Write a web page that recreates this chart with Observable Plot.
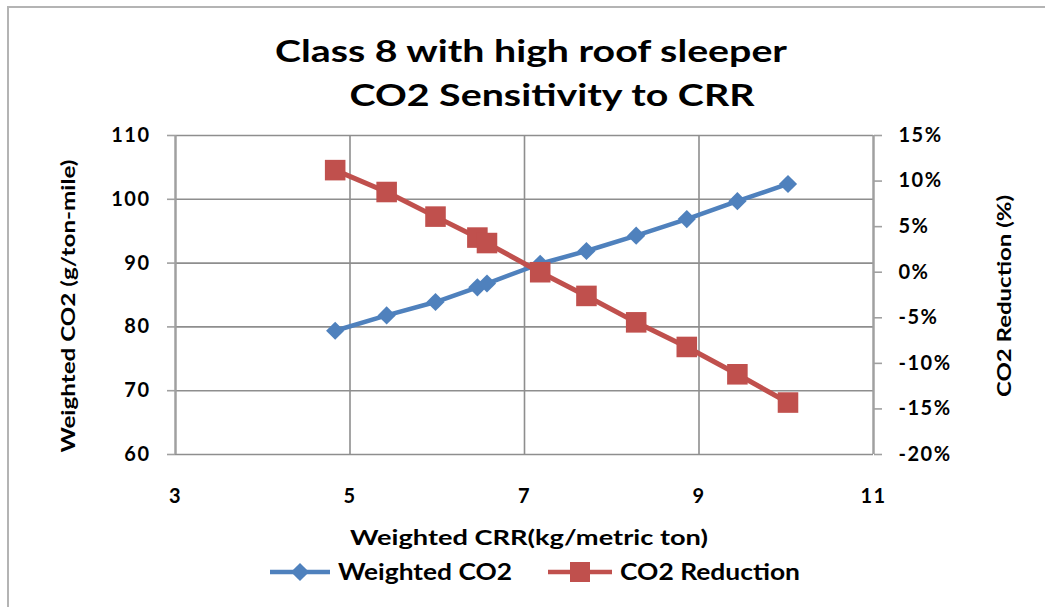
<!DOCTYPE html>
<html><head><meta charset="utf-8">
<script src="https://cdn.jsdelivr.net/npm/d3@7"></script>
<script src="https://cdn.jsdelivr.net/npm/@observablehq/plot@0.6"></script>
<style>
body{margin:0;background:#fff;}
#wrap{position:relative;width:1045px;height:607px;overflow:hidden;font-family:Lato,"Open Sans",sans-serif;}
#frame{position:absolute;left:7px;top:6px;width:1100px;height:700px;border-left:2px solid #b4b4b4;border-top:2px solid #b4b4b4;}
#chart{position:absolute;left:0;top:0;}
#overlay{position:absolute;left:0;top:0;}
#chart svg text{font-family:Lato,"Open Sans",sans-serif;}
#chart svg g[aria-label$="tick label"] text{letter-spacing:1.5px;}
</style></head><body>
<div id="wrap">
<div id="frame"></div>
<div id="chart"></div>
<svg id="overlay" width="1045" height="607" font-family="Lato, 'Open Sans', sans-serif" fill="#000"></svg>
</div>
<script>
// ---- data ----
const crr = [4.83, 5.42, 5.98, 6.46, 6.57, 7.18, 7.71, 8.28, 8.86, 9.44, 10.02];
const weightedCO2 = [79.4, 81.8, 83.9, 86.2, 86.8, 89.9, 91.9, 94.3, 96.9, 99.7, 102.4];
const co2Reduction = [11.2, 8.8, 6.1, 3.8, 3.2, 0.0, -2.6, -5.5, -8.2, -11.2, -14.3];
const xTicks = [3, 5, 7, 9, 11];
const leftTicks = [60, 70, 80, 90, 100, 110];
const rightTicks = [15, 10, 5, 0, -5, -10, -15, -20];
const seriesNames = ["Weighted CO2", "CO2 Reduction"];
const colors = ["#4f81bd", "#c0504d"];

// right axis (percent) mapped onto left axis domain
const leftDomain = [60, 110], rightDomain = [-20, 15];
const toLeft = p => leftDomain[0] + (p - rightDomain[0]) * (leftDomain[1] - leftDomain[0]) / (rightDomain[1] - rightDomain[0]);
const fromLeft = v => rightDomain[0] + (v - leftDomain[0]) * (rightDomain[1] - rightDomain[0]) / (leftDomain[1] - leftDomain[0]);

const blue = crr.map((x, i) => ({x, y: weightedCO2[i]}));
const red = crr.map((x, i) => ({x, y: toLeft(co2Reduction[i])}));

const grid = "#8e8e8e";
const chart = Plot.plot({
  width: 1045, height: 607,
  marginLeft: 175, marginRight: 172, marginTop: 135, marginBottom: 153,
  style: {background: "transparent", color: "#000", overflow: "visible"},
  x: {domain: [3, 11]},
  y: {domain: leftDomain},
  marks: [
    Plot.gridY(leftTicks, {stroke: grid, strokeOpacity: 1, strokeWidth: 1.6}),
    Plot.gridX(xTicks, {stroke: grid, strokeOpacity: 1, strokeWidth: 1.6}),
    Plot.ruleX([3, 11], {stroke: "#a0a0a0", strokeWidth: 2.2}),
    Plot.axisY(leftTicks, {anchor: "left", tickSize: 8, tickPadding: 17, stroke: "#a0a0a0", strokeWidth: 1.6,
      fontSize: 20, fontWeight: "bold", tickFormat: d => String(d), label: null}),
    Plot.axisY(rightTicks.map(toLeft), {anchor: "right", tickSize: 8, tickPadding: 17, stroke: "#a0a0a0", strokeWidth: 1.6,
      fontSize: 20, fontWeight: "bold", tickFormat: d => Math.round(fromLeft(d)) + "%", label: null}),
    Plot.axisX(xTicks, {anchor: "bottom", tickSize: 0, tickPadding: 34, fontSize: 20, fontWeight: "bold",
      tickFormat: d => String(d), label: null}),
    Plot.line(blue, {x: "x", y: "y", stroke: colors[0], strokeWidth: 4.5}),
    Plot.dot(blue, {x: "x", y: "y", symbol: "diamond2", fill: colors[0], stroke: "none", r: 8.2}),
    Plot.line(red, {x: "x", y: "y", stroke: colors[1], strokeWidth: 5}),
    Plot.dot(red, {x: "x", y: "y", symbol: "square", fill: colors[1], stroke: "none", r: 11.6})
  ]
});
document.getElementById("chart").appendChild(chart);

// ---- titles, axis labels, legend ----
const ov = d3.select("#overlay");
function txt(s, x, y, size, len, opts = {}) {
  const t = ov.append("text").attr("x", x).attr("y", y).attr("font-size", size)
    .attr("font-weight", opts.weight || "bold").attr("text-anchor", opts.anchor || "middle").text(s);
  if (len) t.attr("textLength", len).attr("lengthAdjust", "spacingAndGlyphs");
  if (opts.rotate) t.attr("transform", `rotate(-90 ${x} ${y})`);
  return t;
}
txt("Class 8 with high roof sleeper", 531, 62, 31, 512);
txt("CO2 Sensitivity to CRR", 552, 106, 31, 405);
txt("Weighted CO2 (g/ton-mile)", 75, 306, 19, 293, {rotate: true});
txt("CO2 Reduction (%)", 1011, 296, 19, 202, {rotate: true});
txt("Weighted CRR(kg/metric ton)", 529, 545, 20, 358);

// legend
const legY = 572;
[[270, 330, 300, 338, 174], [548, 612, 580, 620, 180]].forEach(([x1, x2, xm, tx, tl], i) => {
  ov.append("line").attr("x1", x1).attr("x2", x2).attr("y1", legY).attr("y2", legY)
    .attr("stroke", colors[i]).attr("stroke-width", 4.5);
  if (i === 0) ov.append("path").attr("d", d3.symbol(d3.symbolDiamond2, Math.PI * 8.2 * 8.2)())
    .attr("transform", `translate(${xm},${legY})`).attr("fill", colors[i]);
  else ov.append("rect").attr("x", xm - 10).attr("y", legY - 10).attr("width", 20).attr("height", 20).attr("fill", colors[i]);
  txt(seriesNames[i], tx, legY + 8, 22, tl, {anchor: "start"});
});
</script>
</body></html>
